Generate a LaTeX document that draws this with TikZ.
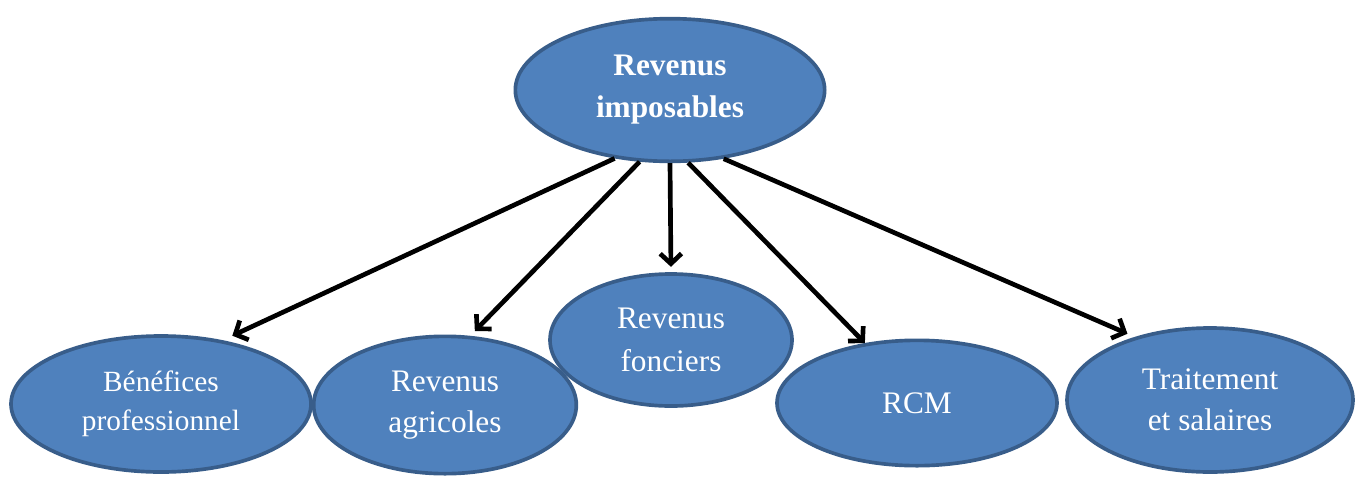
\documentclass[tikz,border=0pt]{standalone}
\usepackage{fontspec}
\setmainfont{Liberation Serif}
\usepackage{xcolor}
\usetikzlibrary{shapes.geometric,arrows.meta}
\definecolor{bulle}{HTML}{4F81BD}
\definecolor{bord}{HTML}{385D8A}
\tikzset{
  bulle/.style={ellipse,draw=bord,fill=bulle,line width=2.75pt,inner sep=0pt,
    text=white,align=center,font=\fontsize{23.5}{30.5}\selectfont},
  fleche/.style={line width=3.5pt,-{Straight Barb[length=7.5pt,width=16pt]}}
}
\begin{document}
\begin{tikzpicture}[x=0.75pt,y=0.75pt,yscale=-1,xscale=1]
\useasboundingbox (0,0) rectangle (1357,479);

%Shape: Ellipse [id:revimp]
\node (revimp) [bulle,minimum width=232pt,minimum height=107pt,font=\fontsize{23.5}{31.5}\selectfont\bfseries] at (670,90) {Revenus\\imposables};
%Shape: Ellipse [id:benef]
\node (benef) [bulle,minimum width=225pt,minimum height=102pt,font=\fontsize{22}{29.5}\selectfont] at (161,404) {Bénéfices\\professionnel};
%Shape: Ellipse [id:agri]
\node (agri) [bulle,minimum width=197pt,minimum height=103pt] at (445,405) {Revenus\\agricoles};
%Shape: Ellipse [id:fonc]
\node (fonc) [bulle,minimum width=181.5pt,minimum height=99pt,font=\fontsize{23.5}{32}\selectfont] at (671,340) {Revenus\\fonciers};
%Shape: Ellipse [id:rcm]
\node (rcm) [bulle,minimum width=210pt,minimum height=94pt] at (917,403) {RCM};
%Shape: Ellipse [id:trait]
\node (trait) [bulle,minimum width=214.5pt,minimum height=108pt] at (1210,400) {Traitement\\et salaires};

%Straight Lines
\draw [fleche,shorten >=8pt] (revimp.231) -- (benef.46);
\draw [fleche,shorten >=5pt] (revimp.247) -- (agri.70);
\draw [fleche,shorten >=4pt] (revimp.south) -- (fonc.north);
\draw [fleche] (revimp.284) -- (rcm.131);
\draw [fleche,shorten >=6pt] (revimp.308) -- (trait.140);

\end{tikzpicture}
\end{document}
